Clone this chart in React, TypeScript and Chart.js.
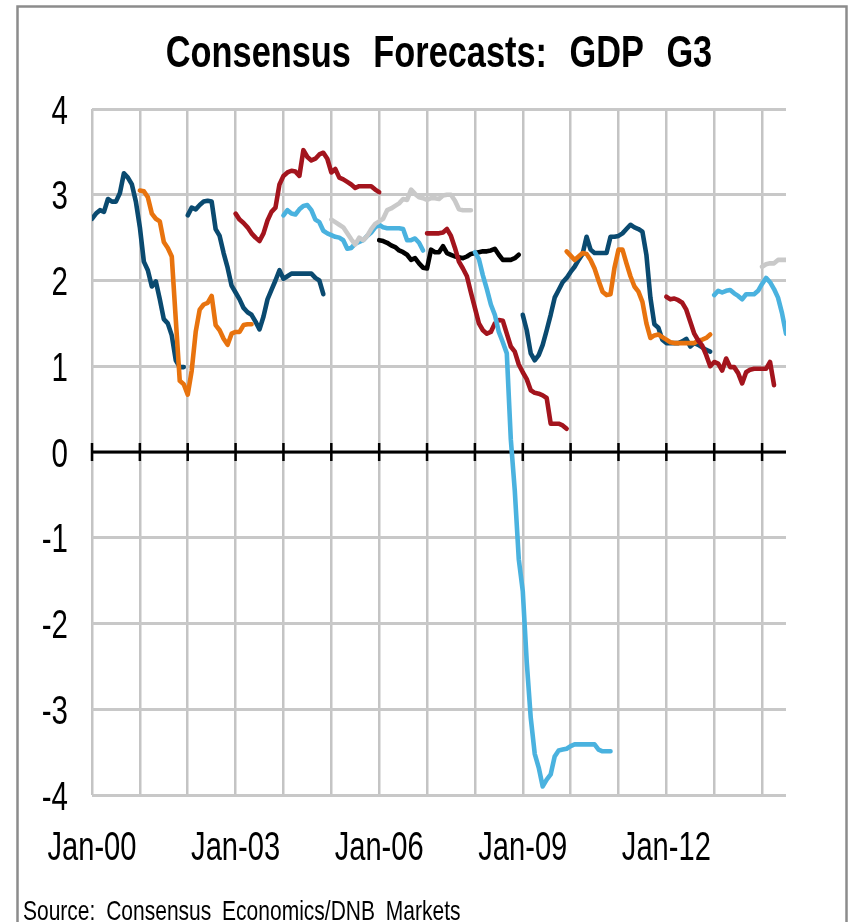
import React, { useEffect, useRef } from "react";
import { Chart, registerables } from "chart.js";

Chart.register(...registerables);

const FONT_FAMILY = "'Liberation Sans', Arial, sans-serif";

const CHART_TITLE = "Consensus Forecasts: GDP G3";
const SOURCE_NOTE = "Source: Consensus Economics/DNB Markets";

// x values are months counted from Jan-2000
const X_MAX = 174;
const yearTicks = [0, 12, 24, 36, 48, 60, 72, 84, 96, 108, 120, 132, 144, 156, 168];
const yearLabels = ["Jan-00", "", "", "Jan-03", "", "", "Jan-06", "", "", "Jan-09", "", "", "Jan-12", "", ""];
const valueTicks = [-4, -3, -2, -1, 0, 1, 2, 3, 4];

// Monthly consensus GDP growth forecasts (%), one vintage per line
const fromJan00 = [2.72, 2.78, 2.82, 2.80, 2.95, 2.92, 2.92, 3.02, 3.25, 3.20, 3.12, 2.92, 2.62, 2.22, 2.12, 1.93, 1.99, 1.78, 1.55, 1.50, 1.36, 1.07, 0.99, 0.99];
const fromJan01 = [3.05, 3.04, 2.97, 2.78, 2.72, 2.69, 2.45, 2.38, 2.28, 1.55, 0.83, 0.79, 0.67, 0.95, 1.40, 1.66, 1.72, 1.74, 1.82, 1.48, 1.42, 1.32, 1.25, 1.38, 1.40, 1.40, 1.48, 1.49, 1.49];
const fromJan02 = [2.76, 2.85, 2.83, 2.88, 2.92, 2.93, 2.92, 2.60, 2.52, 2.32, 2.15, 1.94, 1.86, 1.78, 1.68, 1.63, 1.60, 1.52, 1.43, 1.58, 1.78, 1.89, 2.00, 2.12, 2.02, 2.05, 2.08, 2.08, 2.08, 2.08, 2.08, 2.08, 2.03, 2.00, 1.84];
const fromJan03 = [2.78, 2.71, 2.67, 2.62, 2.55, 2.50, 2.46, 2.55, 2.70, 2.80, 2.85, 3.12, 3.22, 3.26, 3.28, 3.27, 3.22, 3.52, 3.44, 3.40, 3.42, 3.47, 3.49, 3.42, 3.26, 3.30, 3.20, 3.18, 3.15, 3.12, 3.08, 3.10, 3.10, 3.10, 3.10, 3.06, 3.03];
const fromJan04 = [2.76, 2.82, 2.78, 2.77, 2.83, 2.87, 2.88, 2.82, 2.71, 2.68, 2.58, 2.55, 2.53, 2.51, 2.50, 2.47, 2.37, 2.38, 2.43, 2.45, 2.47, 2.52, 2.56, 2.62, 2.65, 2.62, 2.61, 2.61, 2.61, 2.61, 2.60, 2.47, 2.47, 2.49, 2.44, 2.35];
const fromJan05 = [2.71, 2.68, 2.65, 2.62, 2.55, 2.48, 2.42, 2.50, 2.47, 2.52, 2.60, 2.66, 2.69, 2.72, 2.82, 2.84, 2.87, 2.90, 2.95, 2.94, 3.06, 3.01, 2.97, 2.96, 2.94, 2.96, 2.96, 2.95, 2.99, 3.00, 3.00, 2.93, 2.83, 2.82, 2.82, 2.82];
const fromJan06 = [2.47, 2.46, 2.44, 2.41, 2.39, 2.35, 2.33, 2.30, 2.24, 2.26, 2.20, 2.15, 2.14, 2.36, 2.33, 2.33, 2.40, 2.32, 2.30, 2.28, 2.27, 2.26, 2.28, 2.31, 2.32, 2.33, 2.34, 2.34, 2.35, 2.37, 2.30, 2.24, 2.24, 2.24, 2.26, 2.30];
const fromJan07 = [2.55, 2.55, 2.55, 2.55, 2.56, 2.60, 2.52, 2.38, 2.22, 2.14, 2.05, 1.86, 1.68, 1.50, 1.42, 1.38, 1.40, 1.50, 1.54, 1.53, 1.38, 1.23, 1.17, 1.02, 0.93, 0.85, 0.72, 0.69, 0.68, 0.66, 0.63, 0.33, 0.33, 0.33, 0.31, 0.27];
const fromJan08 = [2.33, 2.25, 2.06, 1.90, 1.72, 1.60, 1.40, 1.28, 1.15, 0.15, -0.45, -1.25, -1.62, -2.45, -3.10, -3.52, -3.68, -3.90, -3.82, -3.76, -3.55, -3.48, -3.47, -3.46, -3.43, -3.41, -3.41, -3.41, -3.41, -3.41, -3.41, -3.47, -3.49, -3.49, -3.49];
const fromJan09 = [1.60, 1.42, 1.15, 1.07, 1.13, 1.25, 1.42, 1.60, 1.80, 1.89, 1.98, 2.03, 2.10, 2.16, 2.24, 2.31, 2.51, 2.36, 2.32, 2.32, 2.32, 2.32, 2.51, 2.51, 2.52, 2.55, 2.60, 2.65, 2.62, 2.60, 2.57, 2.30, 1.80, 1.49, 1.45, 1.31, 1.27, 1.27, 1.27, 1.27, 1.29, 1.32, 1.23, 1.27, 1.25, 1.22, 1.19, 1.17];
const fromDec09 = [2.34, 2.29, 2.24, 2.28, 2.32, 2.31, 2.24, 2.14, 2.00, 1.87, 1.83, 1.84, 2.15, 2.36, 2.36, 2.20, 2.05, 1.93, 1.87, 1.75, 1.50, 1.33, 1.36, 1.37, 1.34, 1.31, 1.28, 1.27, 1.27, 1.27, 1.27, 1.27, 1.27, 1.30, 1.31, 1.33, 1.37];
const fromJan12 = [1.81, 1.78, 1.79, 1.77, 1.74, 1.66, 1.52, 1.38, 1.30, 1.24, 1.13, 1.00, 1.05, 1.03, 0.95, 1.09, 0.99, 0.99, 0.92, 0.80, 0.93, 0.96, 0.97, 0.97, 0.97, 0.97, 1.05, 0.78];
const fromJan13 = [1.83, 1.88, 1.86, 1.88, 1.89, 1.85, 1.82, 1.78, 1.84, 1.84, 1.84, 1.88, 1.96, 2.03, 1.98, 1.90, 1.80, 1.62, 1.38];
const fromJan14 = [2.16, 2.19, 2.20, 2.20, 2.24, 2.24, 2.24];

const DARK_BLUE = "#0A4A70";
const ORANGE = "#E8730E";
const RED = "#A3141D";
const LIGHT_BLUE = "#4AB2DF";
const GRAY = "#C9C9C9";
const BLACK = "#000000";

const lines = [
  { start: 0, values: fromJan00, color: DARK_BLUE },
  { start: 12, values: fromJan01, color: ORANGE },
  { start: 24, values: fromJan02, color: DARK_BLUE },
  { start: 36, values: fromJan03, color: RED },
  { start: 48, values: fromJan04, color: LIGHT_BLUE },
  { start: 60, values: fromJan05, color: GRAY },
  { start: 72, values: fromJan06, color: BLACK },
  { start: 84, values: fromJan07, color: RED },
  { start: 96, values: fromJan08, color: LIGHT_BLUE },
  { start: 108, values: fromJan09, color: DARK_BLUE },
  { start: 119, values: fromDec09, color: ORANGE },
  { start: 144, values: fromJan12, color: RED },
  { start: 156, values: fromJan13, color: LIGHT_BLUE },
  { start: 168, values: fromJan14, color: GRAY },
];

const W = 850;
const H = 922;
const PLOT_LEFT = 92;
const PLOT_RIGHT = 786;
const PLOT_TOP = 109;
const PLOT_BOTTOM = 795;

// Draws text squeezed horizontally, giving a narrow typeface look
function drawNarrowText(
  ctx: CanvasRenderingContext2D,
  text: string,
  x: number,
  y: number,
  font: string,
  squeeze: number,
  align: CanvasTextAlign,
  wordGap = 0
) {
  ctx.save();
  ctx.font = font;
  ctx.fillStyle = "#000";
  ctx.textAlign = align;
  ctx.textBaseline = "alphabetic";
  ctx.translate(x, y);
  ctx.scale(squeeze, 1);
  if (wordGap) (ctx as any).wordSpacing = `${wordGap / squeeze}px`;
  ctx.fillText(text, 0, 0);
  ctx.restore();
}

const framePlugin = {
  id: "frame",
  beforeDraw(chart: any) {
    const { ctx } = chart;
    ctx.save();
    ctx.fillStyle = "#ffffff";
    ctx.fillRect(0, 0, chart.width, chart.height);
    ctx.strokeStyle = "#8c8c8c";
    ctx.lineWidth = 2.5;
    ctx.strokeRect(17.5, 6.5, 829, chart.height + 20);
    ctx.restore();
  },
  beforeDatasetsDraw(chart: any) {
    // zero line with yearly tick marks crossing it
    const { ctx, chartArea } = chart;
    const xs = chart.scales.x;
    const y0 = chart.scales.y.getPixelForValue(0);
    ctx.save();
    ctx.strokeStyle = "#000";
    ctx.lineWidth = 3;
    ctx.beginPath();
    ctx.moveTo(chartArea.left, y0);
    ctx.lineTo(chartArea.right, y0);
    ctx.stroke();
    ctx.lineWidth = 2.5;
    ctx.beginPath();
    yearTicks.forEach((m) => {
      const px = xs.getPixelForValue(m);
      ctx.moveTo(px, y0 - 9);
      ctx.lineTo(px, y0 + 9);
    });
    ctx.stroke();
    ctx.restore();
  },
  afterDraw(chart: any) {
    const { ctx, chartArea } = chart;
    const xs = chart.scales.x;
    const ys = chart.scales.y;
    const labelFont = `41px ${FONT_FAMILY}`;

    drawNarrowText(ctx, CHART_TITLE, (chartArea.left + chartArea.right) / 2, 67, `bold 44px ${FONT_FAMILY}`, 0.78, "center", 13);

    valueTicks.forEach((v) => {
      drawNarrowText(ctx, String(v), 68, ys.getPixelForValue(v) + 14.5, labelFont, 0.72, "right");
    });

    yearTicks.forEach((m, i) => {
      if (yearLabels[i]) {
        drawNarrowText(ctx, yearLabels[i], xs.getPixelForValue(m), 860, labelFont, 0.71, "center");
      }
    });

    drawNarrowText(ctx, SOURCE_NOTE, 23, 920, `28px ${FONT_FAMILY}`, 0.75, "left", 5);
  },
};

export default function App() {
  const canvasRef = useRef<HTMLCanvasElement | null>(null);

  useEffect(() => {
    const canvas = canvasRef.current;
    if (!canvas) return;
    const datasets = lines.map((ln, i) => ({
      data: ln.values.map((v, k) => ({ x: ln.start + k, y: v })),
      borderColor: ln.color,
      backgroundColor: ln.color,
      borderWidth: 4.6,
      borderCapStyle: "round" as const,
      borderJoinStyle: "round" as const,
      pointRadius: 0,
      tension: 0,
      fill: false,
      order: lines.length - i,
    }));

    const chart = new Chart(canvas, {
      type: "line",
      data: { datasets },
      options: {
        responsive: false,
        animation: false,
        events: [],
        devicePixelRatio: 1,
        layout: {
          padding: { left: 0, right: W - PLOT_RIGHT, top: PLOT_TOP, bottom: 0 },
        },
        plugins: {
          legend: { display: false },
          title: { display: false },
          tooltip: { enabled: false },
        },
        scales: {
          x: {
            type: "linear",
            min: 0,
            max: X_MAX,
            afterBuildTicks: (s: any) => {
              s.ticks = yearTicks.map((v) => ({ value: v }));
            },
            afterFit: (s: any) => {
              s.height = H - PLOT_BOTTOM;
            },
            border: { display: false },
            grid: { color: "#c4c4c4", lineWidth: 2.5, drawTicks: false },
            ticks: { display: false },
          },
          y: {
            type: "linear",
            min: -4,
            max: 4,
            afterBuildTicks: (s: any) => {
              s.ticks = valueTicks.map((v) => ({ value: v }));
            },
            afterFit: (s: any) => {
              s.width = PLOT_LEFT;
            },
            border: { display: false },
            grid: { color: "#c8c8c8", lineWidth: 3, drawTicks: false },
            ticks: { display: false },
          },
        },
      },
      plugins: [framePlugin],
    });
    return () => chart.destroy();
  }, []);

  return (
    <div style={{ position: "absolute", left: 0, top: 0, width: W, height: H, background: "#fff" }}>
      <canvas ref={canvasRef} width={W} height={H} style={{ display: "block" }} />
    </div>
  );
}
